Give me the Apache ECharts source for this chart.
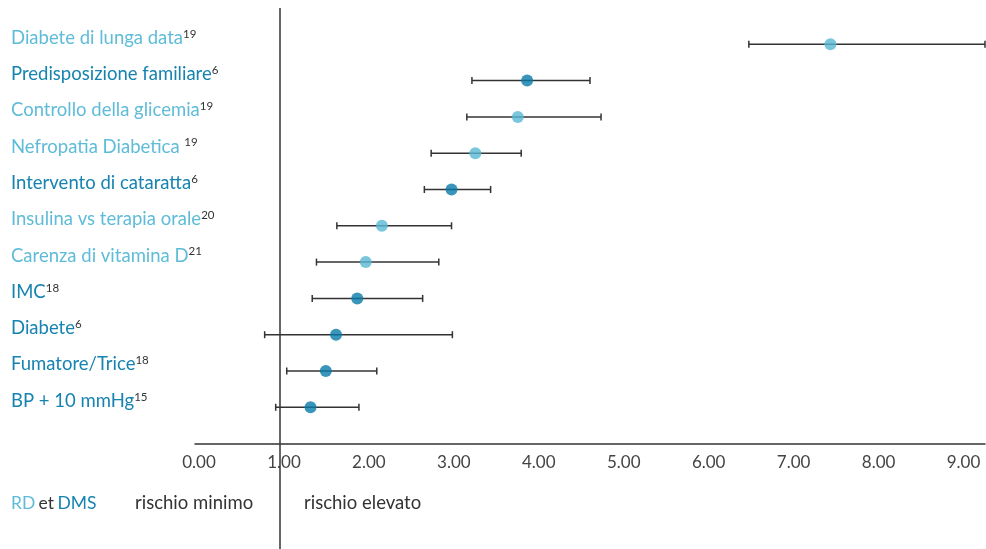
<!DOCTYPE html>
<html>
<head>
<meta charset="utf-8">
<script src="https://cdn.jsdelivr.net/npm/echarts@6/dist/echarts.min.js"></script>
<style>
  html, body { margin: 0; padding: 0; background: #fff; }
  #chart { width: 986px; height: 549px; }
</style>
</head>
<body>
<div id="chart"></div>
<script>
// righe dall'alto verso il basso
const labels = [
  "Diabete di lunga data",
  "Predisposizione familiare",
  "Controllo della glicemia",
  "Nefropatia Diabetica ",
  "Intervento di cataratta",
  "Insulina vs terapia orale",
  "Carenza di vitamina D",
  "IMC",
  "Diabete",
  "Fumatore/Trice",
  "BP + 10 mmHg",
];
const refs = ["19", "6", "19", "19", "6", "20", "21", "18", "6", "18", "15"];
const groups = ["RD", "DMS", "RD", "RD", "DMS", "RD", "RD", "DMS", "DMS", "DMS", "DMS"];
const estimate = [7.48, 3.91, 3.80, 3.30, 3.02, 2.20, 2.01, 1.91, 1.66, 1.54, 1.36];
const lower = [6.52, 3.26, 3.20, 2.78, 2.70, 1.67, 1.43, 1.38, 0.82, 1.08, 0.95];
const upper = [9.3, 4.65, 4.78, 3.84, 3.48, 3.02, 2.87, 2.68, 3.03, 2.14, 1.93];
const xTicks = [0, 1, 2, 3, 4, 5, 6, 7, 8, 9];

const colors = { RD: "#58b8d5", DMS: "#077ba8" };
const textColors = { RD: "#5fbcd8", DMS: "#1683b0" };
const font = "Lato";
const fs = 18.5;
const n = labels.length;

const rowY = (i) => n - i;

const chart = echarts.init(document.getElementById("chart"));

const option = {
  animation: false,
  textStyle: { fontFamily: font },
  grid: [
    { left: 195, right: 1, top: 8, bottom: 105.4, outerBoundsMode: "none" },
    // pezzo sotto l'asse, solo per prolungare la linea di riferimento
    { left: 195, right: 1, top: 443.6, bottom: 0, outerBoundsMode: "none" },
  ],
  xAxis: [
    {
      type: "value",
      gridIndex: 0,
      min: 0,
      max: 9.3,
      interval: 1,
      splitLine: { show: false },
      axisTick: { show: false },
      axisLine: { lineStyle: { color: "#333", width: 1.5 } },
      axisLabel: {
        margin: 10,
        fontSize: 17,
        color: "#444",
        fontFamily: font,
        padding: [0, 0, 0, 8],
        showMaxLabel: false,
        formatter: (v) => (xTicks.includes(v) ? v.toFixed(2) : ""),
      },
    },
    { type: "value", gridIndex: 1, min: 0, max: 9.3, show: false },
  ],
  yAxis: [
    {
      type: "value",
      gridIndex: 0,
      min: 0,
      max: 12,
      interval: 1,
      splitLine: { show: false },
      axisTick: { show: false },
      axisLine: { show: false },
      axisLabel: {
        align: "left",
        margin: 184,
        padding: [0, 0, 13, 0],
        formatter: (v) => {
          const i = n - v;
          if (i < 0 || i >= n) return "";
          const key = groups[i] === "RD" ? "rd" : "dms";
          return "{" + key + "|" + labels[i] + "}{sup|" + refs[i] + "}";
        },
        rich: {
          rd: { fontSize: fs, color: textColors.RD, fontFamily: font, lineHeight: 22 },
          dms: { fontSize: fs, color: textColors.DMS, fontFamily: font, lineHeight: 22 },
          sup: { fontSize: 11.5, color: "#333", fontFamily: font, verticalAlign: "top", lineHeight: 22, padding: [1, 0, 9, 0] },
        },
      },
    },
    { type: "value", gridIndex: 1, min: 0, max: 1, show: false },
  ],
  series: [
    {
      type: "custom",
      silent: true,
      data: labels.map((_, i) => [lower[i], upper[i], rowY(i)]),
      renderItem: (params, api) => {
        const a = api.coord([api.value(0), api.value(2)]);
        const b = api.coord([api.value(1), api.value(2)]);
        const style = { stroke: "#333", lineWidth: 1.5 };
        return {
          type: "group",
          children: [
            { type: "line", shape: { x1: a[0], y1: a[1], x2: b[0], y2: b[1] }, style },
            { type: "line", shape: { x1: a[0], y1: a[1] - 3.5, x2: a[0], y2: a[1] + 3.5 }, style },
            { type: "line", shape: { x1: b[0], y1: b[1] - 3.5, x2: b[0], y2: b[1] + 3.5 }, style },
          ],
        };
      },
      markLine: {
        silent: true,
        symbol: "none",
        label: { show: false },
        lineStyle: { color: "#333", width: 1.5, type: "solid" },
        data: [{ xAxis: 1 }],
      },
    },
    {
      type: "scatter",
      silent: true,
      symbol: "circle",
      symbolSize: 12,
      data: labels.map((_, i) => ({
        value: [estimate[i], rowY(i)],
        itemStyle: { color: colors[groups[i]] },
      })),
    },
    {
      type: "scatter",
      xAxisIndex: 1,
      yAxisIndex: 1,
      silent: true,
      data: [],
      markLine: {
        silent: true,
        symbol: "none",
        label: { show: false },
        lineStyle: { color: "#333", width: 1.5, type: "solid" },
        data: [{ xAxis: 1 }],
      },
    },
  ],
  graphic: [
    {
      type: "text",
      left: 11,
      top: 494,
      style: {
        text: "{rd|RD} {et|et} {dms|DMS}",
        rich: {
          rd: { fontSize: 17.5, fill: textColors.RD, fontFamily: font },
          et: { fontSize: 17.5, fill: "#333", fontFamily: font },
          dms: { fontSize: 17.5, fill: textColors.DMS, fontFamily: font },
        },
      },
    },
    {
      type: "text",
      left: 135,
      top: 494,
      style: { text: "rischio minimo", fontSize: fs, fill: "#333", fontFamily: font },
    },
    {
      type: "text",
      left: 304,
      top: 494,
      style: { text: "rischio elevato", fontSize: fs, fill: "#333", fontFamily: font },
    },
  ],
};

chart.setOption(option);
</script>
</body>
</html>
